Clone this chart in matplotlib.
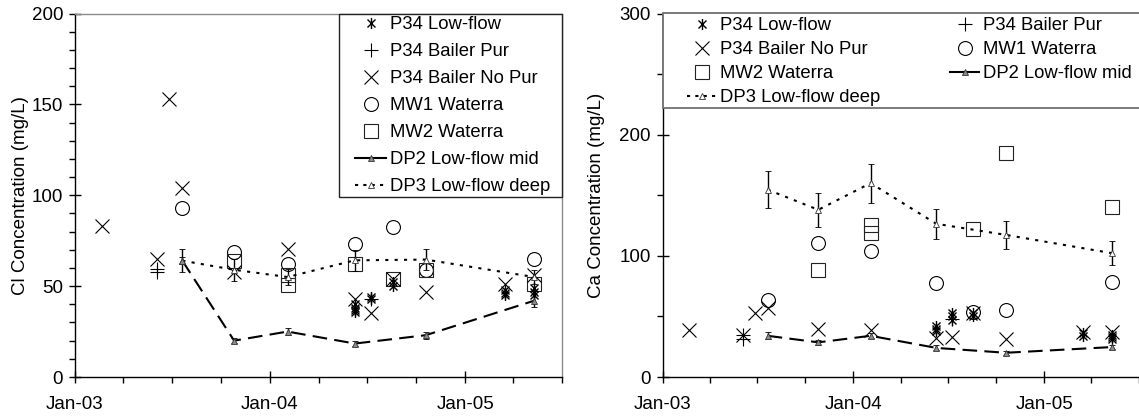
import matplotlib
matplotlib.use('Agg')
import matplotlib.pyplot as plt
import matplotlib.dates as mdates
from matplotlib.path import Path
from matplotlib.lines import Line2D
from matplotlib.patches import Rectangle
from matplotlib.ticker import MultipleLocator

plt.rcParams['font.family'] = ['Liberation Sans', 'DejaVu Sans']

# ---------------- data ----------------
# Chloride (left panel)
cl_lowflow_dates = ['2004-06-08'] * 4 + ['2004-07-08'] * 2 + ['2004-08-18'] * 2 + ['2005-03-16'] * 3 + ['2005-05-10'] * 3
cl_lowflow = [40, 38, 37, 36, 44, 43, 52, 50, 48, 46, 45, 49, 47, 45]

cl_pur_dates = ['2003-06-04', '2003-06-04', '2004-07-08']
cl_pur = [58, 59.5, 43]

cl_nopur_dates = ['2003-02-20', '2003-06-04', '2003-06-26', '2003-07-21', '2003-10-26', '2004-02-03',
                  '2004-06-08', '2004-07-08', '2004-08-18', '2004-10-19', '2005-03-16', '2005-05-10']
cl_nopur = [83, 65, 153, 104, 58, 70.6, 43, 35, 54, 46.8, 51, 56]

cl_mw1_dates = ['2003-07-21', '2003-10-26', '2004-02-03', '2004-06-08', '2004-08-18', '2004-10-19', '2005-05-10']
cl_mw1 = [93, 69, 62, 73.4, 82.6, 58.7, 65]

cl_mw2_dates = ['2003-10-26', '2004-02-03', '2004-02-03', '2004-06-08', '2004-08-18', '2004-10-19', '2005-05-10']
cl_mw2 = [64, 56.3, 50.5, 62.4, 54, 58.7, 51.4]

dp_dates = ['2003-07-21', '2003-10-26', '2004-02-03', '2004-06-08', '2004-10-19', '2005-05-10']
cl_dp2 = [64, 20, 25, 18.4, 23, 42]
cl_dp2_err = [2, 1.5, 2, 1.5, 2, 3.5]
cl_dp3 = [64, 59, 55, 64.2, 64.6, 55]
cl_dp3_err = [6.5, 6, 4.5, 5.7, 6, 4]

# Calcium (right panel)
ca_lowflow_dates = ['2004-06-08'] * 3 + ['2004-07-08'] * 3 + ['2004-08-18'] * 2 + ['2005-03-16'] * 2 + ['2005-05-10'] * 3
ca_lowflow = [42, 40, 38, 53, 50, 47, 53, 50, 36, 34, 35, 33, 31]

ca_pur_dates = ['2003-06-04', '2003-06-04', '2004-07-08']
ca_pur = [35, 31, 48]

ca_nopur_dates = cl_nopur_dates
ca_nopur = [39, 35, 52.8, 57, 39.6, 38.5, 32, 33, 53, 31.3, 37, 37]

ca_mw1_dates = ['2003-07-21', '2003-10-26', '2004-02-03', '2004-06-08', '2004-08-18', '2004-10-19', '2005-05-10']
ca_mw1 = [63.8, 111, 103.7, 77.5, 53.5, 55, 78.8]

ca_mw2_dates = ['2003-10-26', '2004-02-03', '2004-02-03', '2004-08-18', '2004-10-19', '2005-05-10']
ca_mw2 = [88, 125.7, 118.8, 122, 185, 140]

ca_dp2 = [34, 28.6, 34, 24, 20, 24.7]
ca_dp2_err = [3, 2, 2, 2, 1.5, 2]
ca_dp3 = [154.6, 138, 160, 126.4, 117.3, 102.2]
ca_dp3_err = [15.5, 14, 16, 12.4, 11.7, 10]

labels = ['P34 Low-flow', 'P34 Bailer Pur', 'P34 Bailer No Pur', 'MW1 Waterra',
          'MW2 Waterra', 'DP2 Low-flow mid', 'DP3 Low-flow deep']

# ---------------- styles ----------------
ast = Path([(0, -1), (0, 1), (-0.72, -0.72), (0.72, 0.72), (-0.72, 0.72), (0.72, -0.72)],
           [Path.MOVETO, Path.LINETO] * 3)

sty = {
    'low': dict(marker=ast, ms=8, mfc='none', mec='k', mew=1.0, ls='none'),
    'pur': dict(marker='+', ms=10, mec='k', mew=0.8, ls='none'),
    'nopur': dict(marker='x', ms=10, mec='k', mew=0.8, ls='none'),
    'mw1': dict(marker='o', ms=10, mfc='none', mec='k', mew=0.8, ls='none'),
    'mw2': dict(marker='s', ms=10, mfc='none', mec='#222222', mew=0.8, ls='none'),
    'dp2': dict(marker='^', ms=5, mfc='#8c8c8c', mec='#333333', mew=0.6, color='k', lw=1.5,
                ls=(0, (7, 3.5))),
    'dp3': dict(marker='^', ms=5, mfc='white', mec='#333333', mew=0.6, color='k', lw=1.5,
                ls=(0, (1.5, 3))),
}

FS_TICK = 13.5
FS_LEG = 13.3


def dn(lst):
    return [mdates.datestr2num(s) for s in lst]


def draw(ax, low_d, low, pur_d, pur, nop_d, nop, mw1_d, mw1, mw2_d, mw2, dp2, dp2e, dp3, dp3e):
    ax.plot(dn(mw1_d), mw1, **sty['mw1'])
    ax.plot(dn(mw2_d), mw2, **sty['mw2'])
    ax.plot(dn(nop_d), nop, **sty['nopur'])
    ax.plot(dn(pur_d), pur, **sty['pur'])
    ax.plot(dn(low_d), low, **sty['low'])
    ax.errorbar(dn(dp_dates), dp3, yerr=dp3e, ecolor='k', elinewidth=1, capsize=2.2, capthick=1,
                **sty['dp3'])
    ax.errorbar(dn(dp_dates), dp2, yerr=dp2e, ecolor='k', elinewidth=1, capsize=2.2, capthick=1,
                **sty['dp2'])


def style_axes(ax, ymax, ymaj, ymin, ylabel, lx):
    ax.set_xlim(mdates.datestr2num('2003-01-01'), mdates.datestr2num('2005-07-01'))
    ax.set_ylim(0, ymax)
    ax.xaxis.set_major_locator(mdates.YearLocator())
    ax.xaxis.set_major_formatter(mdates.DateFormatter('%b-%y'))
    ax.xaxis.set_minor_locator(mdates.MonthLocator(bymonth=[4, 7, 10]))
    ax.yaxis.set_major_locator(MultipleLocator(ymaj))
    ax.yaxis.set_minor_locator(MultipleLocator(ymin))
    ax.tick_params(which='major', direction='inout', length=9, width=1, labelsize=FS_TICK, colors='k')
    ax.tick_params(which='minor', direction='out', length=4, width=1)
    ax.tick_params(axis='x', which='major', pad=9)
    ax.tick_params(axis='y', which='major', pad=4)
    for s in ['left', 'bottom']:
        ax.spines[s].set_color('k')
        ax.spines[s].set_linewidth(1)
    for s in ['top', 'right']:
        ax.spines[s].set_color('#8a8a8a')
        ax.spines[s].set_linewidth(1)
    ax.set_ylabel(ylabel, fontsize=13.5)
    ax.yaxis.set_label_coords(lx, 0.5)


def handles():
    h = []
    for k in ['low', 'pur', 'nopur', 'mw1', 'mw2', 'dp2', 'dp3']:
        s = dict(sty[k])
        if k == 'dp2':
            s['ls'] = '-'
        if k == 'dp3':
            s['ls'] = (0, (1.5, 2.5))
        h.append(Line2D([], [], **s))
    return h


fig = plt.figure(figsize=(11.39, 4.17), dpi=100)
axL = fig.add_axes([75 / 1139, 40 / 417, 487 / 1139, 363.5 / 417])
axR = fig.add_axes([662.7 / 1139, 40 / 417, 476.3 / 1139, 363.5 / 417])

draw(axL, cl_lowflow_dates, cl_lowflow, cl_pur_dates, cl_pur, cl_nopur_dates, cl_nopur,
     cl_mw1_dates, cl_mw1, cl_mw2_dates, cl_mw2, cl_dp2, cl_dp2_err, cl_dp3, cl_dp3_err)
draw(axR, ca_lowflow_dates, ca_lowflow, ca_pur_dates, ca_pur, ca_nopur_dates, ca_nopur,
     ca_mw1_dates, ca_mw1, ca_mw2_dates, ca_mw2, ca_dp2, ca_dp2_err, ca_dp3, ca_dp3_err)

style_axes(axL, 200, 50, 10, 'Cl Concentration (mg/L)', -0.0945)
style_axes(axR, 300, 100, 50, 'Ca Concentration (mg/L)', -0.121)
axR.spines['right'].set_visible(False)

# ---- left legend: frame drawn as a rectangle, entries placed inside ----
axL.add_patch(Rectangle((0.542, 0.494), 0.458, 0.506, transform=axL.transAxes, facecolor='white',
                        edgecolor='#222222', lw=1, zorder=10, clip_on=False))
legL = axL.legend(handles(), labels, loc='upper left', bbox_to_anchor=(0.575, 0.992), borderaxespad=0,
                  fontsize=FS_LEG, frameon=False, handlelength=1.7, handletextpad=0.2,
                  labelspacing=0.54, borderpad=0, numpoints=1)
legL.set_zorder(11)

# ---- right legend: full-width frame, two columns ----
axR.add_patch(Rectangle((0, 0.74), 1.02, 0.26, transform=axR.transAxes, facecolor='white',
                        edgecolor='#707070', lw=1.3, zorder=10, clip_on=False))
order = [0, 2, 4, 6, 1, 3, 5]
hR = handles()
legR = axR.legend([hR[i] for i in order], [labels[i] for i in order], loc='upper left',
                  bbox_to_anchor=(0.051, 0.99), ncol=2, borderaxespad=0,
                  fontsize=FS_LEG, frameon=False, handlelength=1.6, handletextpad=0.2,
                  labelspacing=0.38, borderpad=0, numpoints=1, columnspacing=3.75)
legR.set_zorder(11)

fig.savefig('out.png', dpi=100)
